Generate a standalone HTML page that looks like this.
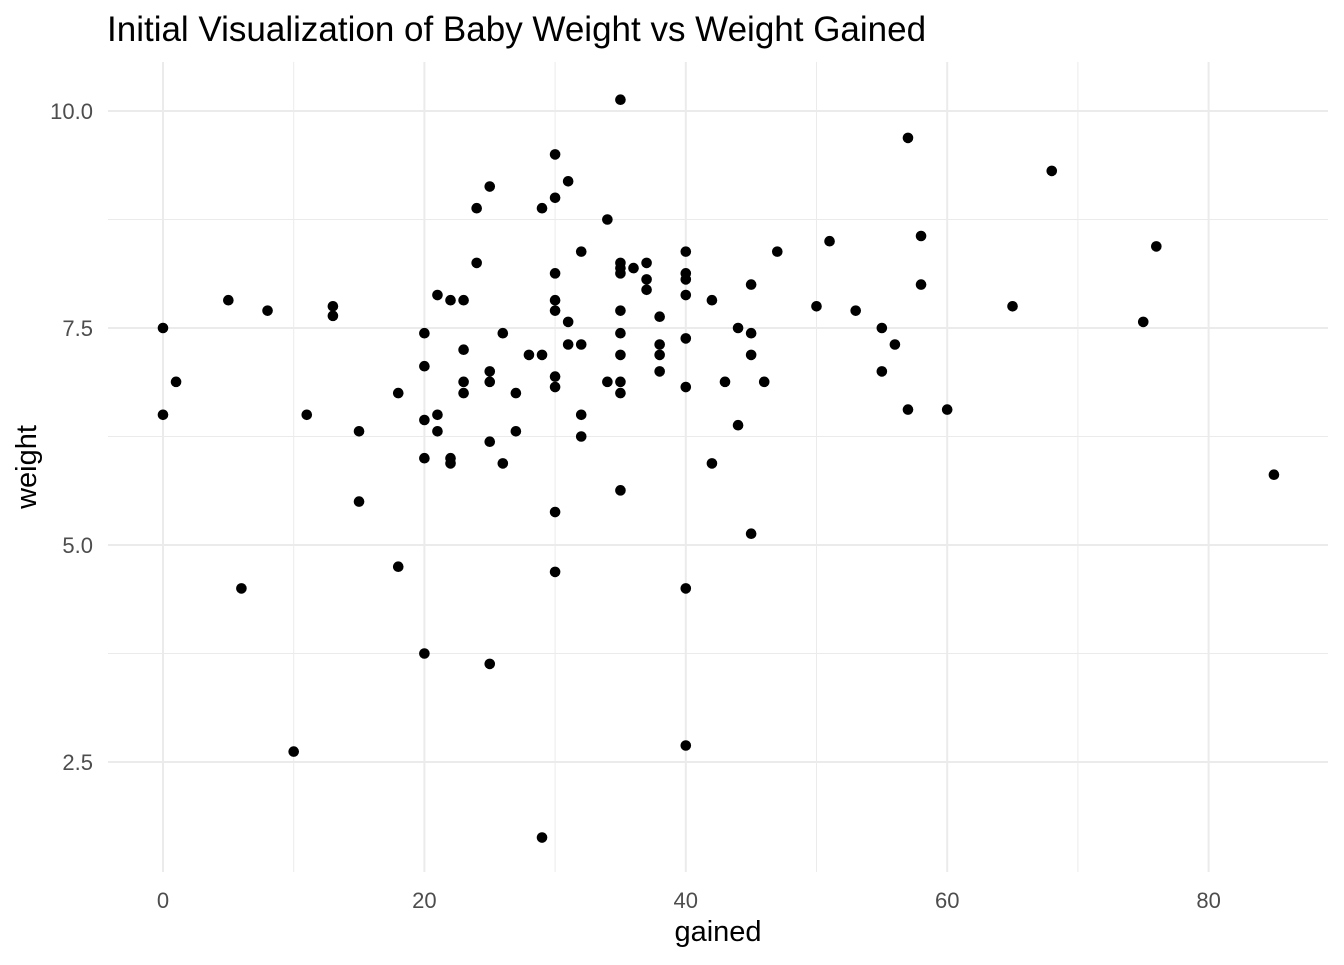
<!DOCTYPE html>
<html><head><meta charset="utf-8"><style>
body{margin:0;background:#fff;}
svg text{font-family:"Liberation Sans",Arial,sans-serif;}
</style></head><body>
<svg id="chart" width="1344" height="960" xmlns="http://www.w3.org/2000/svg">
<text x="107" y="41" font-size="35" fill="#000">Initial Visualization of Baby Weight vs Weight Gained</text>
<g id="grid"></g><g id="axes"></g><g id="pts"></g>
<text x="718" y="941" font-size="29" text-anchor="middle" fill="#000">gained</text>
<text transform="translate(36,467) rotate(-90)" font-size="29" text-anchor="middle" fill="#000">weight</text>
</svg>
<script>
const gained=[0,0,1,5,6,8,10,11,13,13,15,15,18,18,20,20,20,20,20,21,21,21,22,22,22,23,23,23,23,24,24,25,25,25,25,25,26,26,27,27,28,29,29,29,30,30,30,30,30,30,30,30,30,31,31,31,32,32,32,32,34,34,35,35,35,35,35,35,35,35,35,35,36,37,37,37,38,38,38,38,40,40,40,40,40,40,40,40,42,42,43,44,44,45,45,45,45,46,47,50,51,53,55,55,56,57,57,58,58,60,65,68,75,76,85];
const weight=[7.5,6.5,6.88,7.82,4.5,7.7,2.62,6.5,7.75,7.64,6.31,5.5,6.75,4.75,7.44,7.06,6.44,6.0,3.75,7.88,6.5,6.31,7.82,6.0,5.94,7.82,7.25,6.88,6.75,8.88,8.25,9.13,7.0,6.88,6.19,3.63,7.44,5.94,6.75,6.31,7.19,8.88,7.19,1.63,9.5,9.0,8.13,7.82,7.7,6.94,6.82,5.38,4.69,9.19,7.57,7.31,8.38,7.31,6.5,6.25,8.75,6.88,10.13,8.25,8.19,8.13,7.7,7.44,7.19,6.88,6.75,5.63,8.19,8.25,8.06,7.94,7.63,7.31,7.19,7.0,8.38,8.13,8.06,7.88,7.38,6.82,4.5,2.69,7.82,5.94,6.88,7.5,6.38,8.0,7.44,7.19,5.13,6.88,8.38,7.75,8.5,7.7,7.5,7.0,7.31,9.69,6.56,8.56,8.0,6.56,7.75,9.31,7.57,8.44,5.81];
const xTicks=[0,20,40,60,80];
const xMinor=[10,30,50,70];
const yTicks=[2.5,5.0,7.5,10.0];
const yMinor=[3.75,6.25,8.75];
const X0=108,X1=1328,Y0=62,Y1=872;
const sx=v=>163+v*13.07;
const sy=v=>111+(10-v)*86.8;
const NS="http://www.w3.org/2000/svg";
function mk(t,a,p){const e=document.createElementNS(NS,t);for(const k in a)e.setAttribute(k,a[k]);p.appendChild(e);return e;}
const g=document.getElementById('grid'),ax=document.getElementById('axes'),pg=document.getElementById('pts');
xMinor.forEach(v=>{const l=mk('line',{x1:sx(v),x2:sx(v),y1:Y0,y2:Y1,stroke:'#ebebeb','stroke-width':1},g);

});
yMinor.forEach(v=>{const l=mk('line',{x1:X0,x2:X1,y1:sy(v),y2:sy(v),stroke:'#ebebeb','stroke-width':1},g);

});
xTicks.forEach(v=>{const l=mk('line',{x1:sx(v),x2:sx(v),y1:Y0,y2:Y1,stroke:'#ebebeb','stroke-width':2},g);


const t=mk('text',{x:sx(v),y:908,'font-size':22,fill:'#4d4d4d','text-anchor':'middle'},ax);t.textContent=v;

});
yTicks.forEach(v=>{const l=mk('line',{x1:X0,x2:X1,y1:sy(v),y2:sy(v),stroke:'#ebebeb','stroke-width':2},g);


const t=mk('text',{x:93,y:sy(v)+8,'font-size':22,fill:'#4d4d4d','text-anchor':'end'},ax);t.textContent=v.toFixed(1);

});
gained.forEach((v,i)=>{const c=mk('circle',{cx:sx(v),cy:sy(weight[i]),r:5.3,fill:'#000'},pg);

});
</script>
</body></html>
